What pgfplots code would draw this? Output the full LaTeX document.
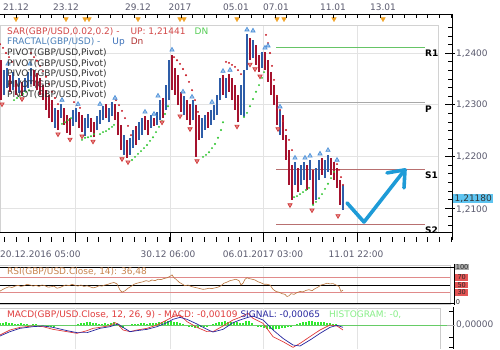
\documentclass[border=0pt]{standalone}
\usepackage{pgfplots}
\pgfplotsset{compat=1.18}
\usepackage{pgfplotstable}
\usepackage{fontspec}
\setmainfont{DejaVu Sans}
\usetikzlibrary{arrows.meta}

\definecolor{barred}{HTML}{A5122E}
\definecolor{barblue}{HTML}{2E5DA8}
\definecolor{sarred}{HTML}{C8202A}
\definecolor{sargreen}{HTML}{3CC83C}
\definecolor{fracup}{HTML}{4A8FD8}
\definecolor{fracdn}{HTML}{D03434}
\definecolor{pivg}{HTML}{66C466}
\definecolor{pivp}{HTML}{A8A8A8}
\definecolor{pivs}{HTML}{B87070}
\definecolor{arrowblue}{HTML}{1E9BD7}
\definecolor{rsic}{HTML}{B8733A}
\definecolor{rsilab}{HTML}{C8844E}
\definecolor{macdred}{HTML}{E03C3C}
\definecolor{macdblue}{HTML}{2828A0}
\definecolor{histg}{HTML}{2EEA2E}
\definecolor{zerog}{HTML}{66CC66}
\definecolor{axlab}{HTML}{5A5A6E}
\definecolor{markor}{HTML}{F0A020}
\definecolor{curbox}{HTML}{5EC4F0}
\definecolor{sarlab}{HTML}{D24848}
\definecolor{dngreen}{HTML}{55CC55}
\definecolor{fraclab}{HTML}{4A7FB8}
\definecolor{uplab}{HTML}{3A6FB8}
\definecolor{dnlab}{HTML}{B03030}
\definecolor{pivlab}{HTML}{303030}
\definecolor{siglab}{HTML}{2828A0}
\definecolor{histlab}{HTML}{88EE88}
\definecolor{rsisalmon}{HTML}{E08A8A}
\definecolor{boxred}{HTML}{E35454}

\pgfplotstableread{
x lo hi
1 1.2309 1.2386
10 1.2325 1.2357
16 1.2319 1.2348
22 1.2317 1.2344
34 1.2336 1.2367
37 1.2328 1.2361
40 1.2319 1.2352
43 1.2309 1.2338
46 1.2290 1.2328
49 1.2274 1.2319
52 1.2266 1.2309
58 1.2251 1.2290
64 1.2261 1.2294
67 1.2245 1.2280
70 1.2241 1.2274
79 1.2255 1.2286
82 1.2247 1.2280
91 1.2247 1.2274
94 1.2237 1.2266
106 1.2274 1.2301
115 1.2270 1.2301
118 1.2241 1.2286
121 1.2212 1.2261
127 1.2197 1.2232
136 1.2222 1.2259
145 1.2251 1.2278
148 1.2241 1.2270
154 1.2259 1.2274
163 1.2274 1.2313
172 1.2328 1.2396
175 1.2319 1.2371
178 1.2299 1.2357
181 1.2286 1.2325
187 1.2270 1.2309
190 1.2261 1.2301
196 1.2199 1.2299
199 1.2232 1.2280
208 1.2255 1.2286
223 1.2319 1.2357
229 1.2325 1.2359
232 1.2309 1.2352
235 1.2290 1.2338
238 1.2266 1.2319
250 1.2386 1.2429
256 1.2377 1.2415
259 1.2363 1.2396
265 1.2367 1.2402
268 1.2344 1.2386
271 1.2319 1.2363
274 1.2299 1.2338
277 1.2261 1.2319
283 1.2232 1.2280
286 1.2193 1.2241
289 1.2145 1.2212
292 1.2116 1.2183
298 1.2131 1.2177
307 1.2135 1.2183
313 1.2106 1.2174
322 1.2164 1.2197
331 1.2164 1.2197
334 1.2154 1.2189
337 1.2139 1.2177
340 1.2106 1.2154
}\downbars

\pgfplotstableread{
x lo hi
4 1.2319 1.2367
7 1.2332 1.2371
13 1.2328 1.2363
19 1.2323 1.2352
25 1.2325 1.2352
28 1.2332 1.2363
31 1.2340 1.2371
55 1.2255 1.2294
61 1.2274 1.2301
73 1.2259 1.2290
76 1.2266 1.2294
85 1.2239 1.2274
88 1.2255 1.2282
97 1.2251 1.2278
100 1.2263 1.2290
103 1.2270 1.2297
109 1.2266 1.2294
112 1.2278 1.2305
124 1.2203 1.2241
130 1.2203 1.2236
133 1.2216 1.2251
139 1.2232 1.2266
142 1.2241 1.2274
151 1.2255 1.2280
157 1.2261 1.2286
160 1.2270 1.2309
166 1.2290 1.2338
169 1.2309 1.2386
184 1.2280 1.2317
193 1.2270 1.2309
202 1.2236 1.2274
205 1.2251 1.2280
211 1.2261 1.2290
214 1.2270 1.2299
217 1.2280 1.2319
220 1.2309 1.2352
226 1.2313 1.2352
241 1.2280 1.2338
244 1.2276 1.2367
247 1.2367 1.2437
253 1.2390 1.2425
262 1.2371 1.2402
280 1.2241 1.2290
295 1.2145 1.2189
301 1.2145 1.2183
304 1.2154 1.2189
310 1.2154 1.2193
316 1.2116 1.2177
319 1.2154 1.2193
325 1.2158 1.2193
328 1.2170 1.2203
343 1.2096 1.2145
}\upbars

\begin{document}
\fontsize{9}{10}\selectfont
\begin{tikzpicture}[x=1pt,y=1pt,font=\fontsize{9}{10}\selectfont]

% ---------- frames and grids of lower panels ----------
\draw[gray!40, line width=0.5pt] (0,85) -- (450,85) -- (450,46) -- (0,46);
\draw[gray!40, line width=0.5pt] (0,42) -- (440,42) -- (440,1);
\foreach \gx in {75,170,263,357} {
  \draw[gray!22, line width=0.5pt] (\gx,85) -- (\gx,46);
  \draw[gray!22, line width=0.5pt] (\gx,42) -- (\gx,1);
}

% ---------- main price panel ----------
\begin{axis}[
  scale only axis, width=438pt, height=207pt, at={(0pt,118pt)}, anchor=south west,
  xmin=0, xmax=438, ymin=1.20537, ymax=1.24542,
  clip=false, scaled ticks=false,
  axis line style={draw=gray!35, line width=0.5pt},
  xtick={75,170,263,357}, ytick={1.21,1.22,1.23,1.24},
  xticklabels={}, yticklabels={},
  major tick length=0pt,
  grid=major, major grid style={gray!22, line width=0.5pt},
]
% pivot levels
\addplot[pivg, line width=0.9pt] coordinates {(276,1.2410) (425,1.2410)};
\addplot[pivp, line width=0.9pt] coordinates {(276,1.2305) (425,1.2305)};
\addplot[pivs, line width=0.9pt] coordinates {(276,1.2174) (425,1.2174)};
\addplot[pivs, line width=0.9pt] coordinates {(276,1.2069) (425,1.2069)};
% price bars
\addplot[draw=none, mark=none, error bars/.cd, y dir=plus, y explicit, error mark=none,
  error bar style={draw=barred, line width=2.3pt}]
  table[x=x, y=lo, y error expr=\thisrow{hi}-\thisrow{lo}] {\downbars};
\addplot[draw=none, mark=none, error bars/.cd, y dir=plus, y explicit, error mark=none,
  error bar style={draw=barblue, line width=2.3pt}]
  table[x=x, y=lo, y error expr=\thisrow{hi}-\thisrow{lo}] {\upbars};
% parabolic SAR
\addplot[only marks, mark=*, mark size=0.75pt, color=sarred] coordinates {
(0,1.2417)(3,1.2410)(6,1.2400)(9,1.2392)(12,1.2383)
(31,1.2400)(34,1.2392)(37,1.2385)(40,1.2375)(43,1.2365)(46,1.2354)(49,1.2340)(52,1.2325)(55,1.2313)(58,1.2301)
(74,1.2305)(77,1.2299)(80,1.2294)
(116,1.2309)(119,1.2299)(122,1.2288)(125,1.2274)(128,1.2259)(131,1.2241)
(174,1.2392)(177,1.2386)(180,1.2379)(183,1.2369)(186,1.2357)(189,1.2344)(192,1.2328)(195,1.2309)(198,1.2286)
(226,1.2383)(229,1.2381)(232,1.2377)(235,1.2373)(238,1.2367)(241,1.2359)
(266,1.2435)(268,1.2419)(270,1.2400)(272,1.2375)(274,1.2348)(277,1.2317)(280,1.2290)(283,1.2268)(286,1.2251)(289,1.2232)(292,1.2212)
(337,1.2185)(339,1.2174)(341,1.2160)(343,1.2145)};
\addplot[only marks, mark=*, mark size=0.75pt, color=sargreen] coordinates {
(14,1.2309)(17,1.2313)(20,1.2317)(23,1.2321)(26,1.2325)(29,1.2328)
(62,1.2263)(65,1.2266)(68,1.2270)(71,1.2274)
(82,1.2232)(85,1.2236)(88,1.2237)(91,1.2239)(94,1.2243)
(100,1.2243)(103,1.2247)(106,1.2249)(109,1.2253)(112,1.2257)(114,1.2261)
(132,1.2193)(135,1.2199)(138,1.2205)(141,1.2210)(144,1.2216)(147,1.2222)(150,1.2230)(153,1.2237)(156,1.2247)(159,1.2257)(162,1.2268)(165,1.2282)(168,1.2297)
(203,1.2199)(206,1.2203)(209,1.2208)(212,1.2216)(215,1.2224)(218,1.2236)(221,1.2251)(223,1.2266)
(244,1.2276)(247,1.2284)(250,1.2297)(253,1.2311)(256,1.2325)(259,1.2338)(262,1.2352)(264,1.2363)
(294,1.2121)(297,1.2123)(300,1.2127)(303,1.2131)(306,1.2135)(309,1.2139)
(313,1.2106)(316,1.2112)(319,1.2119)(322,1.2127)(325,1.2137)(328,1.2147)(331,1.2158)(334,1.2170)};
% fractals
\addplot[only marks, mark=triangle*, mark size=2.5pt, mark options={fill=fracup!55, draw=fracup, line width=0.6pt}] coordinates {
(8,1.2379)(30,1.2379)(62,1.2309)(78,1.2301)(100,1.2301)(115,1.2313)(145,1.2286)(154,1.2282)(158,1.2317)
(172,1.2406)(183,1.2325)(192,1.2315)(212,1.2305)(223,1.2365)(230,1.2367)(247,1.2445)(253,1.2443)
(265,1.2410)(268,1.2414)(280,1.2296)(295,1.2197)(305,1.2197)(310,1.2201)(320,1.2205)(328,1.2212)(337,1.2193)};
\addplot[only marks, mark=triangle*, mark size=2.5pt, mark options={rotate=180, fill=fracdn!60, draw=fracdn, line width=0.6pt}] coordinates {
(2,1.2301)(22,1.2311)(58,1.2243)(70,1.2233)(82,1.2239)(93,1.2229)(122,1.2195)(128,1.2189)(162,1.2266)
(180,1.2278)(190,1.2253)(197,1.2191)(237,1.2258)(250,1.2378)(255,1.2369)(260,1.2355)(278,1.2253)
(290,1.2106)(312,1.2096)(338,1.2085)};
% forecast arrow
\addplot[arrowblue, line width=3.6pt, line cap=round, line join=round] coordinates {(347,1.2110) (364,1.2073) (404,1.2172)};
\addplot[arrowblue, line width=3.6pt, line cap=round, line join=round] coordinates {(387,1.2168) (405,1.2174) (404,1.2139)};
% event markers on the time ruler
\addplot[only marks, mark=triangle*, mark size=2.6pt, mark options={rotate=180, fill=markor, draw=markor}] coordinates {
(16,1.24658)(66,1.24658)(85,1.24658)(89,1.24658)(138,1.24658)(180,1.24658)(184,1.24658)(237,1.24658)(277,1.24658)(284,1.24658)(334,1.24658)(383,1.24658)};
\end{axis}

% ---------- RSI panel ----------
\begin{axis}[
  scale only axis, width=452pt, height=36pt, at={(0pt,47pt)}, anchor=south west,
  xmin=0, xmax=452, ymin=0, ymax=100, axis lines=none, clip=false,
]
\addplot[black, line width=0.6pt] coordinates {(0,100) (450,100)};
\addplot[rsisalmon, line width=0.8pt] coordinates {(0,70) (450,70)};
\addplot[black, line width=0.6pt] coordinates {(0,50) (450,50)};
\addplot[rsisalmon, line width=0.8pt] coordinates {(0,30) (450,30)};
\addplot[black, line width=0.6pt] coordinates {(0,0) (450,0)};
\addplot[rsic, line width=0.6pt] coordinates {
(0,33)(3,38)(6,42)(9,45)(12,43)(15,47)(18,49)(21,46)(24,48)(27,52)(30,50)(33,47)(36,49)(39,46)(42,50)(45,48)
(48,44)(51,45)(54,47)(57,41)(60,43)(63,47)(66,50)(69,48)(72,52)(75,49)(78,47)(81,50)(84,46)(87,48)(90,45)
(93,42)(96,44)(99,48)(102,47)(105,50)(108,52)(111,55)(114,57)(117,53)(120,36)(122,30)(125,34)(128,41)(131,46)
(134,52)(137,55)(140,57)(143,59)(146,62)(149,60)(152,64)(155,62)(158,66)(161,65)(164,68)(167,70)(170,74)
(172,78)(174,70)(176,66)(179,58)(182,53)(185,48)(188,50)(191,46)(194,44)(197,42)(200,40)(203,38)(206,39)
(209,41)(212,40)(215,42)(218,44)(221,48)(224,55)(227,58)(230,62)(233,64)(236,66)(239,62)(241,50)(243,55)
(245,66)(247,70)(249,68)(252,66)(255,64)(258,59)(261,56)(264,52)(267,52)(270,50)(273,38)(276,32)(279,30)
(282,26)(285,24)(287,18)(289,20)(291,26)(294,24)(297,29)(300,32)(303,31)(306,35)(309,37)(312,34)(315,40)
(318,44)(321,50)(324,52)(327,55)(330,53)(333,54)(336,50)(339,46)(341,32)(343,36)};
\end{axis}

% ---------- MACD panel ----------
\begin{axis}[
  scale only axis, width=452pt, height=40pt, at={(0pt,2pt)}, anchor=south west,
  xmin=0, xmax=452, ymin=-0.0046, ymax=0.0034, axis lines=none, clip=false, scaled ticks=false,
]
\addplot[histg, ycomb, line width=2.6pt] coordinates {
(0,0.0003)(3,0.0004)(6,0.0005)(9,0.0004)(12,0.0003)(15,0.0002)(18,0.0002)(21,0.0003)(24,0.0001)(27,0.0001)
(30,-0.0001)(33,0.0002)(36,0.0001)(39,-0.0002)(42,-0.0001)(45,-0.0003)(48,-0.0004)(51,-0.0005)(54,-0.0004)
(57,-0.0003)(60,-0.0003)(63,-0.0002)(66,-0.0003)(69,-0.0002)(72,-0.0002)(75,-0.0001)(78,0.0001)(81,0.0003)
(84,0.0004)(87,0.0005)(90,0.0005)(93,0.0004)(96,0.0003)(99,0.0002)(102,0.0002)(105,0.0003)(108,0.0002)
(111,0.0004)(114,0.0006)(117,0.0003)(120,-0.0004)(123,-0.0006)(126,-0.0003)(129,-0.0001)(132,0.0001)
(135,0.0002)(138,0.0002)(141,0.0003)(144,0.0003)(147,0.0002)(150,0.0003)(153,0.0004)(156,0.0004)(159,0.0005)
(162,0.0006)(165,0.0007)(168,0.0007)(171,0.0008)(174,0.0006)(177,0.0005)(180,0.0004)(183,0.0001)(186,-0.0003)
(189,-0.0004)(192,-0.0005)(195,-0.0006)(198,-0.0006)(201,-0.0005)(204,-0.0005)(207,-0.0004)(210,-0.0002)
(213,0.0001)(216,0.0003)(219,0.0005)(222,0.0006)(225,0.0007)(228,0.0006)(231,0.0005)(234,0.0006)(237,0.0005)
(240,0.0004)(243,0.0003)(246,0.0008)(249,0.0007)(252,0.0003)(255,-0.0002)(258,-0.0004)(261,-0.0005)
(264,-0.0007)(267,-0.0008)(270,-0.0009)(273,-0.0010)(276,-0.0009)(279,-0.0008)(282,-0.0007)(285,-0.0006)
(288,-0.0005)(291,-0.0004)(294,-0.0002)(297,0.0001)(300,0.0003)(303,0.0005)(306,0.0006)(309,0.0007)
(312,0.0007)(315,0.0006)(318,0.0006)(321,0.0005)(324,0.0005)(327,0.0004)(330,0.0003)(333,0.0002)
(336,0.0001)(339,-0.0001)(342,-0.0003)};
\addplot[zerog, line width=0.8pt] coordinates {(0,0) (450,0)};
\addplot[macdred, line width=0.7pt] coordinates {
(0,-0.0020)(10,-0.0010)(20,-0.00047)(33,-0.0002)(43,-0.00033)(53,-0.00087)(67,-0.00133)(77,-0.00167)
(87,-0.00113)(93,-0.00067)(100,-0.00047)(110,-0.00013)(115,0.00047)(118,0.00013)(123,-0.0010)(130,-0.00133)
(137,-0.0010)(147,-0.00067)(157,0)(167,0.0010)(173,0.00167)(180,0.0020)(187,0.00067)(197,-0.00047)
(207,-0.00133)(213,-0.00133)(223,-0.0002)(233,0.0010)(240,0.00153)(248,0.00233)(253,0.00133)(263,0.00033)
(273,-0.00233)(283,-0.00333)(293,-0.00447)(300,-0.00367)(310,-0.00233)(320,-0.0010)(330,0)(337,-0.0002)(343,-0.0010)};
\addplot[macdblue, line width=0.7pt] coordinates {
(0,-0.0022)(10,-0.00133)(20,-0.00067)(33,-0.00033)(43,-0.0002)(53,-0.00047)(67,-0.00113)(77,-0.00153)
(87,-0.00153)(93,-0.00113)(100,-0.00067)(110,-0.00033)(115,0)(118,0.0002)(123,-0.00047)(130,-0.00133)
(137,-0.00113)(147,-0.00087)(157,-0.00033)(167,0.00047)(173,0.00113)(180,0.00153)(187,0.00113)(197,0.0002)
(207,-0.00087)(213,-0.0014)(223,-0.00087)(233,0.00047)(240,0.0010)(248,0.00153)(253,0.0018)(263,0.0010)
(273,-0.0010)(283,-0.00267)(293,-0.0040)(300,-0.0042)(310,-0.0030)(320,-0.00167)(330,-0.00047)(337,-0.00007)(343,-0.00047)};
\end{axis}

% ---------- time rulers ----------
\draw[black, line width=0.6pt] (0,336) -- (452,336);
\foreach \i in {-6,...,32} { \draw[black, line width=0.5pt] ({75+11.75*\i},336) -- ++(0,-4); }
\draw[black, line width=0.6pt] (452,336) -- (452,110);
\draw[black, line width=0.6pt] (0,118) -- (452,118);
\foreach \i in {-6,...,32} { \draw[black, line width=0.5pt] ({75+11.75*\i},113) -- ++(0,-5); }
\foreach \gx in {75,170,263,357} { \draw[black, line width=0.6pt] (\gx,118) -- (\gx,108); }

% price axis ticks
\foreach \k in {-3,...,20} { \draw[black, line width=0.5pt] (448,{296.98-8.613*\k}) -- (452,{296.98-8.613*\k}); }
\foreach \k in {0,6,12,18} { \draw[black, line width=0.6pt] (445,{296.98-8.613*\k}) -- (455,{296.98-8.613*\k}); }

% top date labels
\foreach \px/\lab in {16/21.12, 66/23.12, 138/29.12, 180/2017, 236/05.01, 276/07.01, 333/11.01, 383/13.01}
  { \node[text=axlab, inner sep=0pt] at (\px,343) {\lab}; }
% bottom date labels
\node[text=axlab, inner sep=0pt, anchor=west] at (0,96) {20.12.2016 05:00};
\node[text=axlab, inner sep=0pt] at (168,96) {30.12 06:00};
\node[text=axlab, inner sep=0pt] at (263,96) {06.01.2017 03:00};
\node[text=axlab, inner sep=0pt] at (356,96) {11.01 22:00};

% price labels
\node[text=axlab, inner sep=0pt, anchor=west] at (456,296.5) {1,2400};
\node[text=axlab, inner sep=0pt, anchor=west] at (456,245) {1,2300};
\node[text=axlab, inner sep=0pt, anchor=west] at (456,193.5) {1,2200};
\node[text=axlab, inner sep=0pt, anchor=west] at (456,140) {1,2100};
\node[fill=curbox, text=black!80, inner xsep=1.5pt, inner ysep=1pt, anchor=west] at (453,151.5) {1,21180};

% pivot labels
\node[text=black, font=\fontsize{9}{10}\selectfont\bfseries, inner sep=0pt, anchor=north west] at (425,300) {R1};
\node[text=black, font=\fontsize{9}{10}\selectfont\bfseries, inner sep=0pt, anchor=north west] at (425,244) {P};
\node[text=black, font=\fontsize{9}{10}\selectfont\bfseries, inner sep=0pt, anchor=north west] at (425,178) {S1};
\begin{scope}
\clip (0,118) rectangle (452,140);
\node[text=black, font=\fontsize{9}{10}\selectfont\bfseries, inner sep=0pt, anchor=north west] at (425,123.5) {S2};
\end{scope}

% main legend
\node[inner sep=0pt, anchor=west, text=sarlab] at (7,318) {SAR(GBP/USD,0.02,0.2) -\hspace{11pt}UP: 1,21441\hspace{9pt}\textcolor{dngreen}{DN}};
\node[inner sep=0pt, anchor=west, text=fraclab] at (7,307.5) {FRACTAL(GBP/USD) -\hspace{12pt}\textcolor{uplab}{Up}\hspace{6pt}\textcolor{dnlab}{Dn}};
\foreach \yy in {297,286.5,276,265.5,255} { \node[inner sep=0pt, anchor=west, text=pivlab] at (7,\yy) {PIVOT(GBP/USD,Pivot)}; }

% RSI labels and ruler
\node[inner sep=0pt, anchor=west, text=rsilab] at (7,78) {RSI(GBP/USD.Close, 14): 36,48};
\draw[black, line width=0.6pt] (454,86) -- (454,45);
\draw[black, line width=0.5pt] (450,83) -- (454,83);
\draw[black, line width=0.5pt] (450,47) -- (454,47);
\begin{scope}[font=\fontsize{6.6}{7}\selectfont]
\node[fill=boxred, text=black!85, minimum width=13pt, minimum height=6.8pt, inner xsep=0.6pt, inner ysep=0pt, anchor=west] at (455,65) {50};
\node[fill=gray!65, text=black!85, minimum width=13pt, minimum height=6.8pt, inner xsep=0.6pt, inner ysep=0pt, anchor=west] at (455,83) {100};
\node[fill=boxred, text=black!85, minimum width=13pt, minimum height=6.8pt, inner xsep=0.6pt, inner ysep=0pt, anchor=west] at (455,72.5) {70};
\node[fill=boxred, text=black!85, minimum width=13pt, minimum height=6.8pt, inner xsep=0.6pt, inner ysep=0pt, anchor=west] at (455,57.5) {30};
\node[text=black!85, inner xsep=0.6pt, inner ysep=0pt, anchor=west] at (455,47.5) {0};
\end{scope}

% MACD labels and ruler
\node[inner sep=0pt, anchor=west] at (7,35) {\textcolor{macdred}{MACD(GBP/USD.Close, 12, 26, 9) - MACD: -0,00109}\hspace{3pt}\textcolor{siglab}{SIGNAL: -0,00065}\hspace{9pt}\textcolor{histlab}{HISTOGRAM: -0,}};
\draw[black, line width=0.6pt] (453,43) -- (453,1);
\foreach \yy in {39,25,13,3} { \draw[black, line width=0.5pt] (449,\yy) -- (453,\yy); }
\draw[gray!60, line width=0.5pt] (447,25) -- (455,25);
\node[text=axlab, inner sep=0pt, anchor=west] at (456,25) {0,00000};

\pgfresetboundingbox
\useasboundingbox (0,0) rectangle (500,350);
\end{tikzpicture}
\end{document}
